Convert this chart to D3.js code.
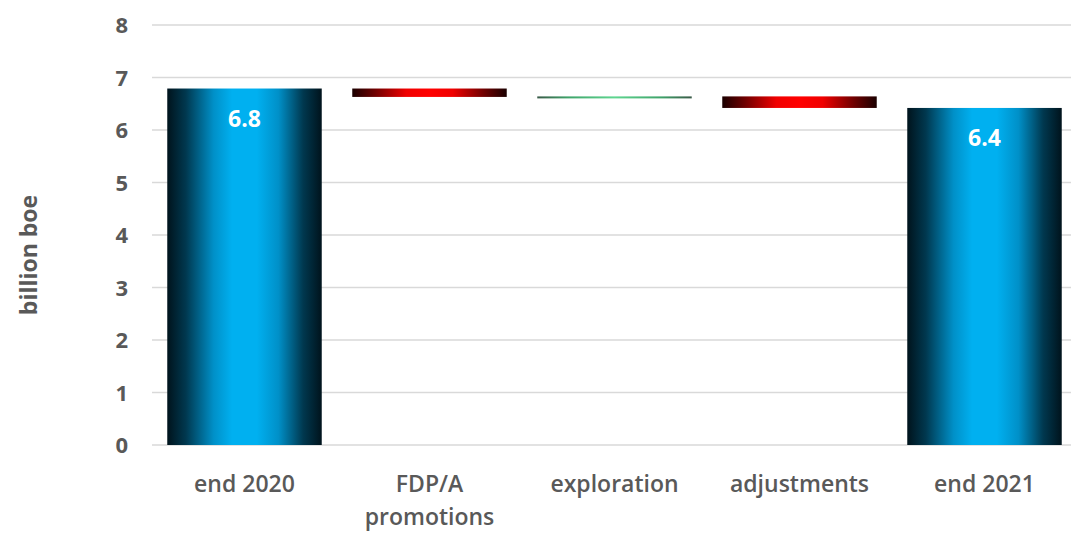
<!DOCTYPE html>
<html><head><meta charset="utf-8">
<script src="https://cdn.jsdelivr.net/npm/d3@7"></script>
<style>body{margin:0;background:#fff}svg{display:block}</style>
</head><body>
<svg id="c" width="1071" height="534"></svg>
<script>
const categories = ["end 2020", "FDP/A promotions", "exploration", "adjustments", "end 2021"];
const labelLines = [["end 2020"], ["FDP/A", "promotions"], ["exploration"], ["adjustments"], ["end 2021"]];
const values = [6.79, -0.16, 0.01, -0.22, 6.42];
const kinds = ["total", "delta", "delta", "delta", "total"];
const valueLabels = ["6.8", "", "", "", "6.4"];
const yTicks = [0, 1, 2, 3, 4, 5, 6, 7, 8];
const yTitle = "billion boe";

const svg = d3.select("#c");
const W = 1071, H = 534;
const x = d3.scaleBand().domain(categories).range([152, 1077]).paddingInner(0.165).paddingOuter(0.0825);
const y = d3.scaleLinear().domain([0, 8]).range([445, 25]);

let run = 0;
const segs = categories.map((c, i) => {
  let y0, y1;
  if (kinds[i] === "total") { y0 = 0; y1 = values[i]; run = values[i]; }
  else { y0 = run; y1 = run + values[i]; run = y1; }
  return {c, i, lo: Math.min(y0, y1), hi: Math.max(y0, y1), v: values[i], kind: kinds[i]};
});

const defs = svg.append("defs");
function hgrad(id, stops) {
  const g = defs.append("linearGradient").attr("id", id).attr("x1", "0%").attr("x2", "100%").attr("y1", "0%").attr("y2", "0%");
  stops.forEach(s => g.append("stop").attr("offset", s[0]).attr("stop-color", s[1]));
}
hgrad("gBlue", [["0%", "#00131c"], ["12%", "#00384f"], ["30%", "#0090c8"], ["42%", "#00b0f0"], ["58%", "#00b0f0"], ["72%", "#0090c8"], ["88%", "#00384f"], ["100%", "#00131c"]]);
hgrad("gRed", [["0%", "#1a0000"], ["15%", "#700000"], ["35%", "#f00000"], ["50%", "#ff0000"], ["65%", "#f00000"], ["85%", "#700000"], ["100%", "#1a0000"]]);
hgrad("gGreen", [["0%", "#3a5a48"], ["20%", "#3fa36a"], ["50%", "#5fd690"], ["80%", "#3fa36a"], ["100%", "#3a5a48"]]);

svg.append("g").selectAll("line").data(yTicks).join("line")
  .attr("x1", 152).attr("x2", W).attr("y1", d => y(d)).attr("y2", d => y(d))
  .attr("stroke", "#d9d9d9").attr("stroke-width", 1.5);

const yAxis = d3.axisLeft(y).tickValues(yTicks).tickSize(0).tickPadding(0).tickFormat(d3.format("d"));
const ya = svg.append("g").attr("transform", "translate(128,0)").call(yAxis);
ya.select(".domain").remove();
ya.selectAll("text").attr("font-family", "Open Sans, sans-serif").attr("font-weight", 700)
  .attr("font-size", 22).attr("fill", "#595959").attr("dy", "0.35em");

svg.append("g").selectAll("rect").data(segs).join("rect")
  .attr("x", d => x(d.c)).attr("width", x.bandwidth())
  .attr("y", d => y(d.hi))
  .attr("height", d => Math.max(2, y(d.lo) - y(d.hi)))
  .attr("fill", d => d.kind === "total" ? "url(#gBlue)" : (d.v < 0 ? "url(#gRed)" : "url(#gGreen)"));

svg.append("g").selectAll("text").data(segs.filter(d => valueLabels[d.i])).join("text")
  .attr("x", d => x(d.c) + x.bandwidth() / 2)
  .attr("y", d => y(d.hi) + 38)
  .attr("text-anchor", "middle")
  .attr("font-family", "Open Sans, sans-serif").attr("font-weight", 700)
  .attr("font-size", 23).attr("fill", "#ffffff")
  .text(d => valueLabels[d.i]);

const cl = svg.append("g").selectAll("text").data(categories).join("text")
  .attr("x", d => x(d) + x.bandwidth() / 2)
  .attr("y", 492)
  .attr("text-anchor", "middle")
  .attr("font-family", "Open Sans, sans-serif").attr("font-weight", 600)
  .attr("font-size", 23).attr("fill", "#595959");
cl.each(function(d, i) {
  d3.select(this).selectAll("tspan").data(labelLines[i]).join("tspan")
    .attr("x", x(d) + x.bandwidth() / 2)
    .attr("dy", (t, j) => j === 0 ? 0 : 33)
    .text(t => t);
});

svg.append("text")
  .attr("transform", "translate(37,255) rotate(-90)")
  .attr("text-anchor", "middle")
  .attr("font-family", "Open Sans, sans-serif").attr("font-weight", 700)
  .attr("font-size", 23).attr("fill", "#595959")
  .text(yTitle);
</script>
</body></html>
